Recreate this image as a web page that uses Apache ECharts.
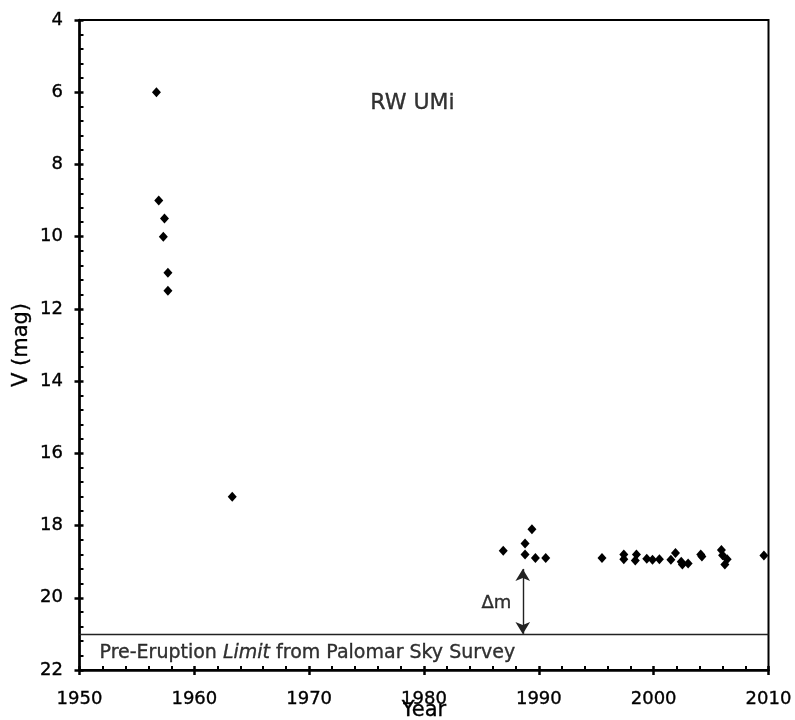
<!DOCTYPE html>
<html>
<head>
<meta charset="utf-8">
<script src="https://cdn.jsdelivr.net/npm/echarts@6/dist/echarts.min.js"></script>
<style>html,body{margin:0;padding:0;background:#fff;}#c{width:795px;height:720px;}</style>
</head>
<body>
<div id="c"></div>
<script>
// Observations of RW UMi: year and V magnitude
const obsYear = [1956.7, 1956.9, 1957.4, 1957.3, 1957.7, 1957.7, 1963.3,
  1986.9, 1988.8, 1988.8, 1989.4, 1989.7, 1990.6,
  1995.5, 1997.4, 1997.4, 1998.5, 1998.4, 1999.4, 1999.9, 2000.5, 2001.5, 2001.9,
  2002.4, 2002.5, 2003.0, 2004.1, 2004.2, 2005.9, 2006.0, 2006.4, 2006.2, 2009.6];
const obsMag = [6.0, 9.0, 9.5, 10.0, 11.0, 11.5, 17.2,
  18.7, 18.5, 18.8, 18.1, 18.9, 18.9,
  18.9, 18.8, 18.93, 18.8, 18.97, 18.92, 18.95, 18.93, 18.95, 18.76,
  19.0, 19.08, 19.05, 18.8, 18.86, 18.68, 18.82, 18.93, 19.08, 18.83];
const preEruptionLimit = 21;
const arrowYear = 1988.6;
const arrowTop = 19.2;
const xTicks = [1950, 2010, 10];
const yTicks = [4, 22, 2];
const titleText = 'RW UMi';
const limitText = ['Pre-Eruption ', 'Limit', ' from Palomar Sky Survey'];
const titlePos = [1979.0, 6.3];
const deltaPos = [1986.3, 20.15];
const limitPos = [1951.7, 21.53];

const FONT = 'DejaVu Sans';
const TB = {textBorderColor: '#000', textBorderWidth: 0.35};
const chart = echarts.init(document.getElementById('c'), null, {renderer: 'canvas'});
const pts = obsYear.map((y, i) => [y, obsMag[i]]);

const xBase = {
  type: 'value', min: xTicks[0], max: xTicks[1], interval: xTicks[2],
  splitLine: {show: false}
};
const yBase = {
  type: 'value', min: yTicks[0], max: yTicks[1], interval: yTicks[2], inverse: true,
  splitLine: {show: false}
};
const txt = (size, extra) => Object.assign({fontFamily: FONT, fontSize: size, color: '#000'}, TB, extra || {});

chart.setOption({
  animation: false,
  backgroundColor: '#fff',
  grid: {left: 79.5, right: 26.5, top: 20, bottom: 50, containLabel: false, outerBoundsMode: 'none',
    show: true, borderColor: '#000', borderWidth: 2, backgroundColor: 'transparent'},
  xAxis: [
    Object.assign({}, xBase, {
      name: 'Year', nameLocation: 'middle', nameGap: 30.5, nameMoveOverlap: false,
      nameTextStyle: txt(21),
      axisLine: {show: true, lineStyle: {color: '#000', width: 2.5}},
      axisTick: {show: true, inside: false, length: 5, lineStyle: {color: '#000', width: 2.5}},
      axisLabel: txt(18, {margin: 20, formatter: v => String(v)})
    }),
    Object.assign({}, xBase, {
      position: 'bottom',
      axisLine: {show: false},
      axisTick: {show: true, inside: true, length: 4, lineStyle: {color: '#000', width: 2.5}},
      minorTick: {show: true, splitNumber: 5, length: 4, lineStyle: {color: '#000', width: 2}},
      axisLabel: {show: false}
    })
  ],
  yAxis: [
    Object.assign({}, yBase, {
      name: 'V (mag)', nameLocation: 'middle', nameGap: 47, nameMoveOverlap: false,
      nameTextStyle: txt(21),
      axisLine: {show: true, lineStyle: {color: '#000', width: 2.5}},
      axisTick: {show: true, inside: false, length: 5, lineStyle: {color: '#000', width: 2.5}},
      axisLabel: txt(18, {margin: 16.5})
    }),
    Object.assign({}, yBase, {
      position: 'left',
      axisLine: {show: false},
      axisTick: {show: true, inside: true, length: 4, lineStyle: {color: '#000', width: 2.5}},
      minorTick: {show: true, splitNumber: 5, length: 4, lineStyle: {color: '#000', width: 2}},
      axisLabel: {show: false}
    })
  ],
  series: [
    {
      type: 'scatter', xAxisIndex: 0, yAxisIndex: 0,
      symbol: 'diamond', symbolSize: [9, 10],
      itemStyle: {color: '#000', opacity: 1},
      data: pts,
      markLine: {
        silent: true, animation: false,
        data: [
          [{coord: [xTicks[0], preEruptionLimit], symbol: 'none'}, {coord: [xTicks[1], preEruptionLimit], symbol: 'none'}],
          [{coord: [arrowYear, arrowTop], symbol: 'arrow'}, {coord: [arrowYear, preEruptionLimit], symbol: 'arrow'}]
        ],
        symbolSize: [11, 12],
        lineStyle: {color: '#222', width: 1.4, type: 'solid'},
        label: {show: false}
      }
    },
    {
      type: 'scatter', xAxisIndex: 0, yAxisIndex: 0, silent: true,
      symbolSize: 1, itemStyle: {color: 'rgba(0,0,0,0)'},
      data: [[titlePos[0], titlePos[1], 't'], [deltaPos[0], deltaPos[1], 'd']],
      label: {
        show: true, position: 'inside', color: '#000', fontFamily: FONT,
        formatter: p => p.data[2] === 't' ? '{t|' + titleText + '}' : '{d|\u0394m}',
        rich: {t: txt(22), d: txt(18)}
      }
    },
    {
      type: 'scatter', xAxisIndex: 0, yAxisIndex: 0, silent: true,
      symbolSize: 1, itemStyle: {color: 'rgba(0,0,0,0)'},
      data: [limitPos],
      label: {
        show: true, position: 'right', distance: 0,
        formatter: '{n|' + limitText[0] + '}{i|' + limitText[1] + '}{n|' + limitText[2] + '}',
        rich: {
          n: txt(19),
          i: txt(19, {fontStyle: 'italic'})
        }
      }
    }
  ]
});
</script>
</body>
</html>
